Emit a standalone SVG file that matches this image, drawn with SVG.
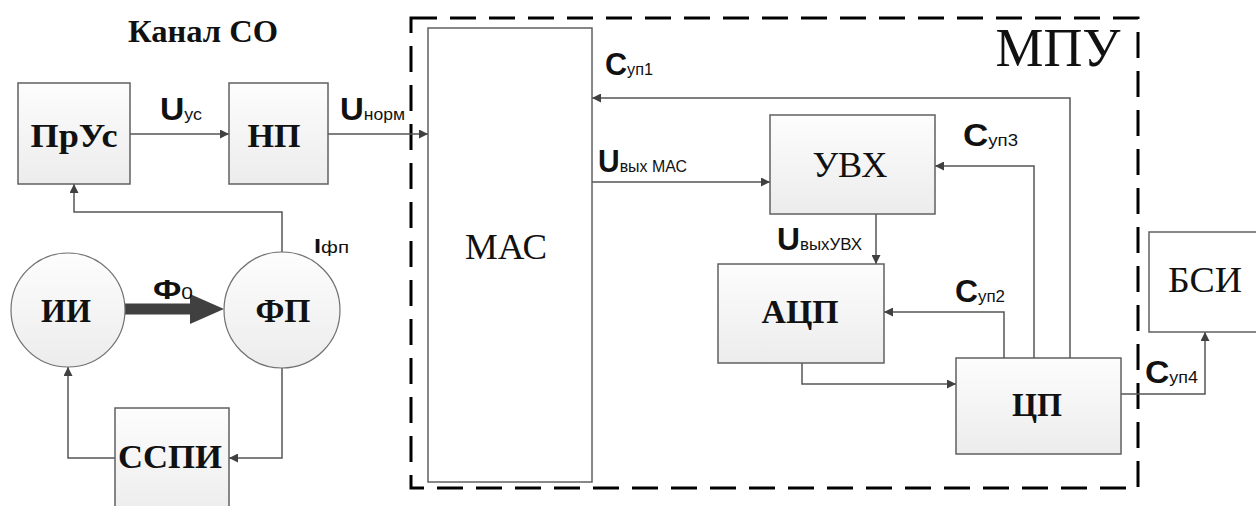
<svg xmlns="http://www.w3.org/2000/svg" width="1256" height="506" viewBox="0 0 1256 506">
<defs>
<linearGradient id="g" x1="0" y1="0" x2="0" y2="1"><stop offset="0" stop-color="#fdfdfd"/><stop offset="1" stop-color="#ececec"/></linearGradient>
<marker id="ar" viewBox="0 0 10 10" refX="10" refY="5" markerWidth="9" markerHeight="9" markerUnits="userSpaceOnUse" orient="auto"><path d="M0,0 L10,5 L0,10 Z" fill="#404040"/></marker>
</defs>
<style>
.box{fill:url(#g);stroke:#606060;stroke-width:1.5}
.wbox{fill:#fff;stroke:#606060;stroke-width:1.5}
.circ{fill:url(#g);stroke:#707070;stroke-width:1.2}
.lbl{font-family:"Liberation Serif","Times New Roman",serif;fill:#111;text-anchor:middle}
.bl{font-weight:bold}
.sig{font-family:"Liberation Sans",Arial,sans-serif;fill:#111;font-size:17px}
.big{font-size:32px;font-weight:bold}
.con{fill:none;stroke:#555;stroke-width:1.5}
</style>
<rect x="411" y="18" width="727" height="470" fill="none" stroke="#000" stroke-width="3" stroke-dasharray="26 13"/>
<text class="lbl" x="1058" y="66" font-size="54" textLength="125" lengthAdjust="spacingAndGlyphs">МПУ</text>
<text class="lbl bl" x="203" y="42" font-size="31" textLength="150" lengthAdjust="spacingAndGlyphs">Канал СО</text>

<g id="connectors">
<path class="con" d="M130,134 H229" marker-end="url(#ar)"/>
<path class="con" d="M328,134 H428" marker-end="url(#ar)"/>
<path class="con" d="M1070,358 V98 H592" marker-end="url(#ar)"/>
<path class="con" d="M1034,358 V166 H935" marker-end="url(#ar)"/>
<path class="con" d="M1004,358 V312 H884" marker-end="url(#ar)"/>
<path class="con" d="M592,182 H770" marker-end="url(#ar)"/>
<path class="con" d="M876,214 V264" marker-end="url(#ar)"/>
<path class="con" d="M802,363 V384 H956" marker-end="url(#ar)"/>
<path class="con" d="M1121,394 H1205 V332" marker-end="url(#ar)"/>
<path class="con" d="M282,253 V212 H74 V184" marker-end="url(#ar)"/>
<path class="con" d="M282,368 V458 H229" marker-end="url(#ar)"/>
<path class="con" d="M115,458 H68 V367" marker-end="url(#ar)"/>
<path d="M125,309 H192" stroke="#404040" stroke-width="11" fill="none"/>
<path d="M190,294 L224,309 L190,324 Z" fill="#404040"/>

<text class="sig" x="160" y="120" textLength="42" lengthAdjust="spacingAndGlyphs"><tspan class="big">U</tspan>ус</text>
<text class="sig" x="340" y="120" textLength="65" lengthAdjust="spacingAndGlyphs"><tspan class="big">U</tspan>норм</text>
<text class="sig" x="605" y="75" textLength="48" lengthAdjust="spacingAndGlyphs"><tspan class="big">C</tspan>уп1</text>
<text class="sig" x="598" y="172" textLength="89" lengthAdjust="spacingAndGlyphs"><tspan class="big">U</tspan>вых МАС</text>
<text class="sig" x="963" y="146" textLength="55" lengthAdjust="spacingAndGlyphs"><tspan class="big">C</tspan>уп3</text>
<text class="sig" x="777" y="250" textLength="85" lengthAdjust="spacingAndGlyphs"><tspan class="big">U</tspan>выхУВХ</text>
<text class="sig" x="955" y="302" textLength="50" lengthAdjust="spacingAndGlyphs"><tspan class="big">C</tspan>уп2</text>
<text class="sig" x="1145" y="383" textLength="53" lengthAdjust="spacingAndGlyphs"><tspan class="big">C</tspan>уп4</text>
<text class="sig" x="314" y="253" font-size="15" textLength="35" lengthAdjust="spacingAndGlyphs"><tspan font-size="21" font-weight="bold">I</tspan>фп</text>
<text class="sig" x="153" y="299" font-size="15" textLength="40" lengthAdjust="spacingAndGlyphs"><tspan font-size="27" font-weight="bold">Ф</tspan>0</text>
</g>

<g id="n-prus"><rect class="box" x="18" y="83" width="112" height="101"/><text class="lbl bl" x="74" y="147" font-size="34" textLength="87" lengthAdjust="spacingAndGlyphs">ПрУс</text></g>
<g id="n-np"><rect class="box" x="229" y="83" width="99" height="101"/><text class="lbl bl" x="274" y="147" font-size="34" textLength="53" lengthAdjust="spacingAndGlyphs">НП</text></g>
<g id="n-ii"><circle class="circ" cx="68" cy="310" r="57"/><text class="lbl bl" x="66" y="322" font-size="33" textLength="50" lengthAdjust="spacingAndGlyphs">ИИ</text></g>
<g id="n-fp"><circle class="circ" cx="282" cy="310" r="58"/><text class="lbl bl" x="283" y="322" font-size="33" textLength="55" lengthAdjust="spacingAndGlyphs">ФП</text></g>
<g id="n-sspi"><rect class="box" x="115" y="408" width="114" height="110"/><text class="lbl bl" x="170" y="468" font-size="34" textLength="104" lengthAdjust="spacingAndGlyphs">ССПИ</text></g>
<g id="n-mac"><rect class="wbox" x="428" y="28" width="164" height="454"/><text class="lbl" x="506" y="259" font-size="35" textLength="82" lengthAdjust="spacingAndGlyphs">МАС</text></g>
<g id="n-uvx"><rect class="box" x="770" y="115" width="165" height="99"/><text class="lbl" x="850" y="177" font-size="35" textLength="75" lengthAdjust="spacingAndGlyphs">УВХ</text></g>
<g id="n-acp"><rect class="box" x="718" y="264" width="166" height="99"/><text class="lbl bl" x="800" y="323" font-size="34" textLength="77" lengthAdjust="spacingAndGlyphs">АЦП</text></g>
<g id="n-cp"><rect class="box" x="956" y="358" width="165" height="96"/><text class="lbl bl" x="1037" y="416" font-size="34" textLength="50" lengthAdjust="spacingAndGlyphs">ЦП</text></g>
<g id="n-bsi"><rect class="wbox" x="1149" y="232" width="120" height="100"/><text class="lbl" x="1205" y="292" font-size="35" textLength="74" lengthAdjust="spacingAndGlyphs">БСИ</text></g>
</svg>
